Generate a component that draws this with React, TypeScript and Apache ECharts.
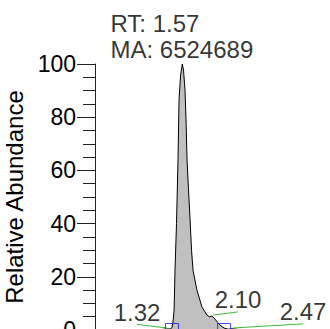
import React, { useEffect, useRef } from "react";
import * as echarts from "echarts";

// Chromatogram trace (retention time in min, relative abundance %)
const traceRt = [0, 0.5, 1.0, 1.2, 1.29, 1.35, 1.38, 1.4, 1.42, 1.436, 1.463, 1.49, 1.508, 1.535, 1.567, 1.589, 1.616, 1.634, 1.652, 1.679, 1.706, 1.733, 1.759, 1.83, 1.92, 2.01, 2.06, 2.1, 2.154, 2.24, 2.316, 2.39, 2.47, 2.57, 3.0, 3.5, 4.2];
const traceVal = [0.1, 0.15, 0.1, 0.2, 0.4, 0.4, 0.8, 3, 7.5, 22.5, 40, 64, 86.5, 95.5, 100, 97.7, 90, 79, 64, 52.6, 41.4, 30, 22.5, 15, 8.6, 5.6, 4.9, 5.3, 4.1, 1.9, 0.75, 0.3, 0.5, 0.2, 0.15, 0.1, 0.1];

// Main peak annotation
const apexRt = 1.57;
const apexArea = 6524689;

// Other peak labels
const peakLabels = ["1.32", "2.10", "2.47"];
const peakPointRt = [1.293, 2.118, 2.478];
const peakPointVal = [0.75, 5.6, 0.75];
const labelRt = [0.754, 2.567, 3.734];
const labelVal = [2.1, 6.8, 2.3];

// Integration boundaries (blue squares)
const boundaryRt = [1.382, 2.316];
const boundaryVal = [0, 0];

const FONT = "'Liberation Sans', Arial, sans-serif";

export default function App() {
  const ref = useRef<HTMLDivElement>(null);
  useEffect(() => {
    if (!ref.current) return;
    const chart = echarts.init(ref.current, undefined, { renderer: "svg" });
    const greenLines = peakLabels.map((_, i) => ({
      type: "line",
      data: [
        [peakPointRt[i], peakPointVal[i]],
        [labelRt[i], labelVal[i]],
      ],
      symbol: "none",
      lineStyle: { color: "#3cb83c", width: 1 },
      z: 3,
      silent: true,
    }));
    chart.setOption({
      animation: false,
      grid: { left: 95, top: 64, width: 234, height: 266, containLabel: false, outerBoundsMode: "none" },
      xAxis: {
        type: "value",
        min: 0,
        max: 4.2,
        show: false,
      },
      yAxis: {
        type: "value",
        min: 0,
        max: 100,
        interval: 20,
        name: "Relative Abundance",
        nameLocation: "middle",
        nameRotate: 90,
        nameGap: 59,
        nameTextStyle: { fontSize: 24, color: "#000", fontFamily: FONT },
        axisLine: { show: true, lineStyle: { color: "#222", width: 1 } },
        axisTick: { show: true, length: 18, lineStyle: { color: "#222" } },
        minorTick: { show: true, splitNumber: 4, length: 12, lineStyle: { color: "#222" } },
        splitLine: { show: false },
        axisLabel: { fontSize: 23, color: "#000", fontFamily: FONT, margin: 19 },
      },
      series: [
        {
          type: "line",
          data: traceRt.map((r, i) => [r, traceVal[i]]),
          symbol: "none",
          lineStyle: { color: "#000", width: 1 },
          areaStyle: { color: "#c0c0c0", opacity: 1 },
          z: 2,
        },
        ...greenLines,
        {
          type: "scatter",
          data: boundaryRt.map((r, i) => [r, boundaryVal[i]]),
          symbol: "rect",
          symbolSize: 13,
          itemStyle: { color: "rgba(0,0,0,0)", borderColor: "#1a1aff", borderWidth: 1 },
          z: 4,
        },
        {
          type: "scatter",
          data: peakLabels.map((t, i) => ({ value: [labelRt[i], labelVal[i]], name: t })),
          symbolSize: 0,
          label: {
            show: true,
            position: "top",
            distance: 0,
            formatter: (p: any) => p.name,
            fontSize: 24,
            color: "#000",
            fontFamily: FONT,
          },
          z: 5,
        },
        {
          type: "scatter",
          data: [[apexRt, 100]],
          symbolSize: 0,
          label: {
            show: true,
            position: "top",
            distance: 2,
            align: "left",
            offset: [-72, 0],
            lineHeight: 26,
            formatter: () => `RT: ${apexRt.toFixed(2)}\nMA: ${apexArea}`,
            fontSize: 24,
            color: "#000",
            fontFamily: FONT,
          },
          z: 5,
        },
      ],
    });
    return () => chart.dispose();
  }, []);
  return (
    <div style={{ position: "fixed", left: 0, top: 0, width: 330, height: 329, overflow: "hidden", background: "#fff" }}>
      <div ref={ref} style={{ width: 330, height: 360 }} />
    </div>
  );
}
